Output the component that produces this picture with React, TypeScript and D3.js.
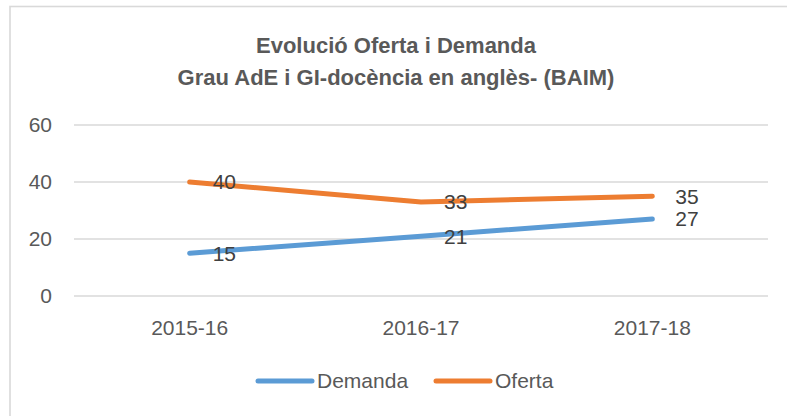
import React from "react";
import * as d3 from "d3";

const categories = ["2015-16", "2016-17", "2017-18"];
const demanda = [15, 21, 27];
const oferta = [40, 33, 35];
const yTicks = [0, 20, 40, 60];
const titleLines = ["Evolució Oferta i Demanda", "Grau AdE i GI-docència en anglès- (BAIM)"];

const W = 787;
const H = 416;
const FONT = "'Liberation Sans', Arial, sans-serif";

export default function App() {
  const x = d3.scalePoint<string>().domain(categories).range([74, 768]).padding(0.5);
  const y = d3.scaleLinear().domain([0, 60]).range([296, 125]);
  const line = d3
    .line<number>()
    .x((_, i) => x(categories[i]) as number)
    .y((d) => y(d));

  const series = [
    { name: "Demanda", values: demanda, color: "#5B9BD5" },
    { name: "Oferta", values: oferta, color: "#ED7D31" },
  ];

  const legendItems = [
    { name: "Demanda", color: "#5B9BD5", x: 258 },
    { name: "Oferta", color: "#ED7D31", x: 436 },
  ];

  return (
    <svg
      width={W}
      height={H}
      style={{ position: "absolute", left: 0, top: 0, background: "#fff" }}
      fontFamily={FONT}
    >
      <rect x={0} y={0} width={W} height={H} fill="#fff" />
      <rect x={10} y={6.5} width={W + 20} height={H + 20} fill="none" stroke="#d9d9d9" strokeWidth={1.6} />
      {titleLines.map((t, i) => (
        <text
          key={i}
          x={396}
          y={53 + i * 32}
          textAnchor="middle"
          fontSize={22}
          fontWeight="bold"
          fill="#595959"
        >
          {t}
        </text>
      ))}
      {yTicks.map((t) => (
        <g key={t}>
          <line x1={74} x2={768} y1={y(t)} y2={y(t)} stroke="#d9d9d9" strokeWidth={1.4} />
          <text x={52} y={y(t)} dy="0.35em" textAnchor="end" fontSize={21} fill="#595959">
            {t}
          </text>
        </g>
      ))}
      {categories.map((c) => (
        <text key={c} x={x(c)} y={335} textAnchor="middle" fontSize={21} fill="#595959">
          {c}
        </text>
      ))}
      {series.map((s) => (
        <path
          key={s.name}
          d={line(s.values) || ""}
          fill="none"
          stroke={s.color}
          strokeWidth={5}
          strokeLinecap="round"
          strokeLinejoin="round"
        />
      ))}
      {series.map((s) =>
        s.values.map((v, i) => (
          <text
            key={s.name + i}
            x={(x(categories[i]) as number) + 23}
            y={y(v)}
            dy="0.35em"
            fontSize={21}
            fill="#404040"
          >
            {v}
          </text>
        ))
      )}
      {legendItems.map((l) => (
        <g key={l.name}>
          <line x1={l.x} x2={l.x + 54} y1={381} y2={381} stroke={l.color} strokeWidth={5} strokeLinecap="round" />
          <text x={l.x + 59} y={381} dy="0.35em" fontSize={21} fill="#595959">
            {l.name}
          </text>
        </g>
      ))}
    </svg>
  );
}
